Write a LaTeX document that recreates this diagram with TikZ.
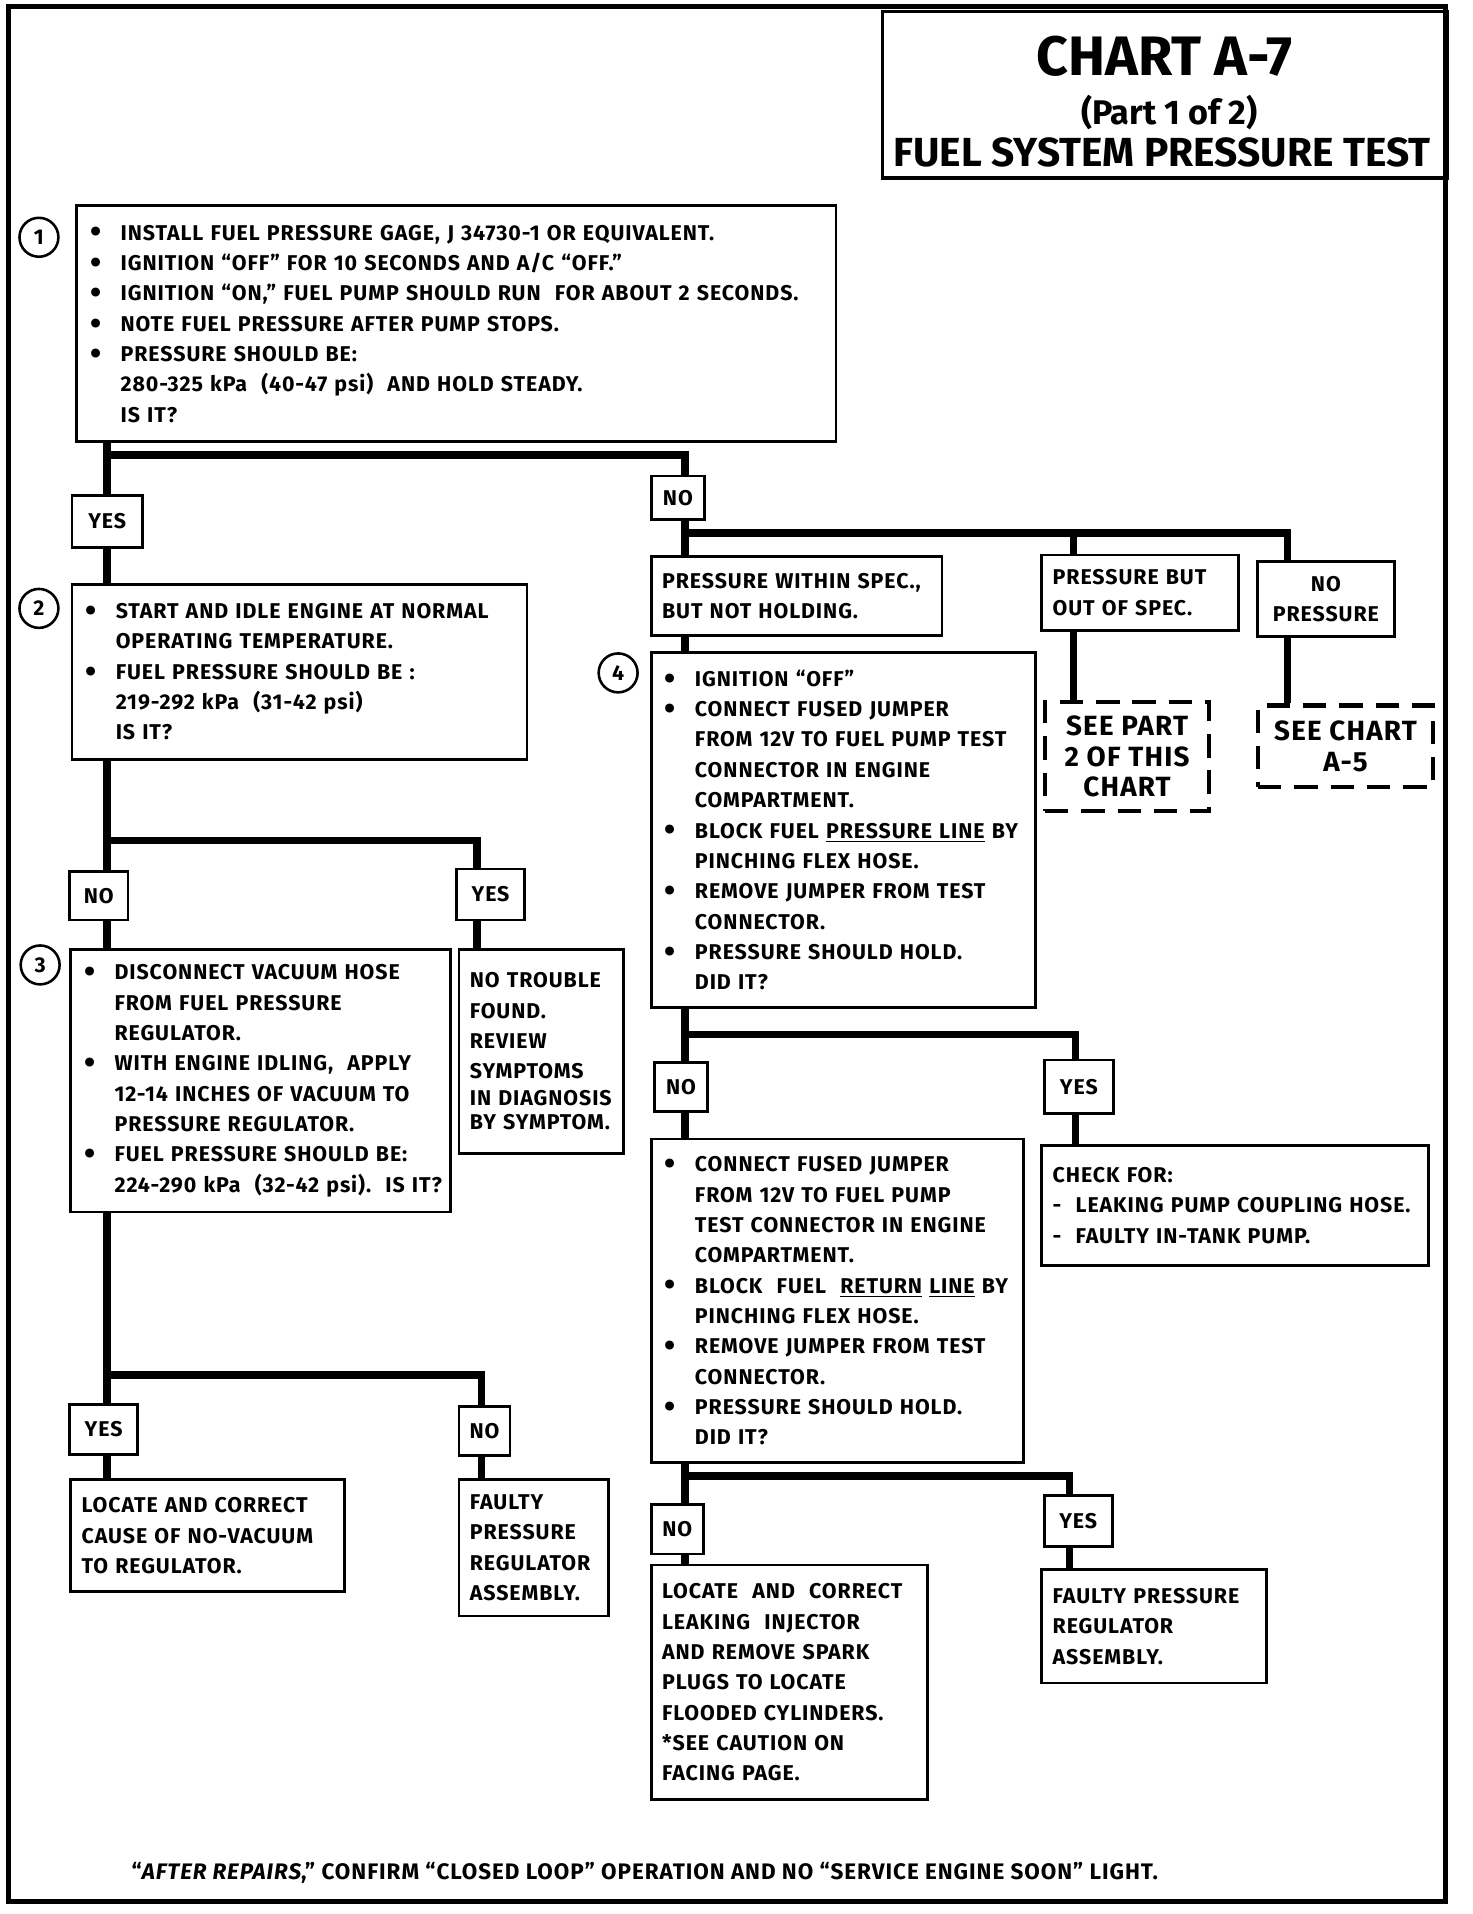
\documentclass[tikz,border=0pt]{standalone}
\usepackage{fontspec}
\setmainfont{Fira Sans}
\newfontfamily\bodyfont{Fira Sans}[LetterSpace=4.3]
\usetikzlibrary{positioning}

\newdimen\ux
\ux=0.02cm
\newcommand\txt{\bodyfont\fontsize{10}{14.2}\selectfont\bfseries}
\newcommand\seetxt{\bodyfont\fontsize{13}{14.2}\selectfont\bfseries}
\newcommand\bul[1]{\makebox[24\ux][l]{\hspace*{-1\ux}\raisebox{-1.3pt}{\fontsize{15}{15}\selectfont\textbullet}}\mbox{#1}}
\newcommand\ind[1]{\hspace*{24\ux}\mbox{#1}}
\newcommand\li[1]{\mbox{#1}}

\begin{document}
\begin{tikzpicture}[x=0.02cm, y=-0.02cm,
                    box/.style={draw, line width=1.3pt, anchor=north west, align=left, inner xsep=12\ux, inner ysep=0pt, font=\txt},
                    note/.style={box, inner xsep=9\ux},
                    tag/.style={draw, line width=1.3pt, anchor=north west, inner sep=0pt, font=\txt},
                    seebox/.style={draw, line width=2pt, dash pattern=on 11pt off 6pt, anchor=north west, align=center, inner sep=0pt, font=\seetxt},
                    num/.style={draw, circle, line width=1.2pt, minimum size=32\ux, inner sep=0pt, font=\txt},
                    conn/.style={line width=3.4pt}
                    ]
    % PAGE %
    \fill[white] (0,0) rectangle (1210,1573);
    \draw[line width=2.4pt] (7,5) rectangle (1188,1563);

    % TITLE %
    \node[draw, line width=1.6pt, anchor=north west, minimum width=464\ux, minimum height=137\ux] (title) at (724,8) {};
    \node[anchor=base, font=\fontsize{26}{26}\selectfont\bfseries] (t1) at (957,62) {CHART A-7};
    \node[anchor=base, font=\fontsize{16}{16}\selectfont\bfseries] (t2) at (961,102) {(Part 1 of 2)};
    \node[anchor=base, font=\fontsize{19}{19}\selectfont\bfseries] (t3) at (955,137) {FUEL SYSTEM PRESSURE TEST};

    % LEFT COLUMN %
    \node[box, text width=600\ux, minimum width=624\ux, minimum height=194\ux] (s1) at (62,168)
        {\bul{INSTALL FUEL PRESSURE GAGE, J 34730-1 OR EQUIVALENT.}\\
         \bul{IGNITION “OFF” FOR 10 SECONDS AND A/C “OFF.”}\\
         \bul{IGNITION “ON,” FUEL PUMP SHOULD RUN\ \ FOR ABOUT 2 SECONDS.}\\
         \bul{NOTE FUEL PRESSURE AFTER PUMP STOPS.}\\
         \bul{PRESSURE SHOULD BE:}\\
         \ind{280-325 kPa\ \ (40-47 psi)\ \ AND HOLD STEADY.}\\
         \ind{IS IT?}};
    \node[num] (c1) at (32,195) {1};

    \node[tag, minimum width=58\ux, minimum height=43\ux] (y1) at (58,406) {YES};

    \node[box, text width=350\ux, minimum width=374\ux, minimum height=144\ux] (s2) at (58,479)
        {\bul{START AND IDLE ENGINE AT NORMAL}\\
         \ind{OPERATING TEMPERATURE.}\\
         \bul{FUEL PRESSURE SHOULD BE :}\\
         \ind{219-292 kPa\ \ (31-42 psi)}\\
         \ind{IS IT?}};
    \node[num] (c2) at (32,500) {2};

    \node[tag, minimum width=48\ux, minimum height=40\ux] (n2) at (56,715) {NO};
    \node[tag, minimum width=56\ux, minimum height=42\ux] (y2) at (374,713) {YES};

    \node[box, text width=288\ux, minimum width=312\ux, minimum height=216\ux] (s3) at (57,779)
        {\bul{DISCONNECT VACUUM HOSE}\\
         \ind{FROM FUEL PRESSURE}\\
         \ind{REGULATOR.}\\
         \bul{WITH ENGINE IDLING,\ \ APPLY}\\
         \ind{12-14 INCHES OF VACUUM TO}\\
         \ind{PRESSURE REGULATOR.}\\
         \bul{FUEL PRESSURE SHOULD BE:}\\
         \ind{224-290 kPa\ \ (32-42 psi).\ \ IS IT?}};
    \node[num] (c3) at (33,793) {3};

    \node[note, text width=117\ux, minimum width=135\ux, minimum height=168\ux] (ntf) at (376,779)
        {\li{NO TROUBLE}\\ \li{FOUND.}\\ \li{REVIEW}\\ \li{SYMPTOMS}\\[-1.7pt]
         \li{IN DIAGNOSIS}\\[-2.8pt] \li{BY SYMPTOM.}};

    \node[tag, minimum width=56\ux, minimum height=41\ux] (y3) at (56,1153) {YES};
    \node[tag, minimum width=42\ux, minimum height=40\ux] (n3) at (376,1155) {NO};

    \node[note, text width=207\ux, minimum width=225\ux, minimum height=92\ux] (loc1) at (57,1215)
        {\li{LOCATE AND CORRECT}\\ \li{CAUSE OF NO-VACUUM}\\ \li{TO REGULATOR.}};
    \node[note, text width=105\ux, minimum width=123\ux, minimum height=112\ux] (flt1) at (376,1215)
        {\li{FAULTY}\\ \li{PRESSURE}\\ \li{REGULATOR}\\ \li{ASSEMBLY.}};

    % RIGHT COLUMN %
    \node[tag, minimum width=44\ux, minimum height=36\ux] (n1) at (534,390) {NO};

    \node[note, text width=221\ux, minimum width=239\ux, minimum height=65\ux] (pws) at (534,456)
        {\li{PRESSURE WITHIN SPEC.,}\\ \li{BUT NOT HOLDING.}};
    \node[note, text width=144\ux, minimum width=162\ux, minimum height=62\ux] (pbos) at (855,455)
        {\li{PRESSURE BUT}\\ \li{OUT OF SPEC.}};
    \node[box, align=center, minimum width=113\ux, minimum height=62\ux] (np) at (1032,460)
        {NO\\ PRESSURE};

    \node[seebox, minimum width=135\ux, minimum height=90\ux] (see1) at (857,575) {SEE PART\\ 2 OF THIS\\ CHART};
    \node[seebox, minimum width=144\ux, minimum height=67\ux] (see2) at (1032,578) {SEE CHART\\ A-5};

    \node[box, text width=292\ux, minimum width=316\ux, minimum height=292\ux] (s4) at (534,535)
        {\bul{IGNITION “OFF”}\\
         \bul{CONNECT FUSED JUMPER}\\
         \ind{FROM 12V TO FUEL PUMP TEST}\\
         \ind{CONNECTOR IN ENGINE}\\
         \ind{COMPARTMENT.}\\
         \bul{BLOCK FUEL \underline{PRESSURE LINE} BY}\\
         \ind{PINCHING FLEX HOSE.}\\
         \bul{REMOVE JUMPER FROM TEST}\\
         \ind{CONNECTOR.}\\
         \bul{PRESSURE SHOULD HOLD.}\\
         \ind{DID IT?}};
    \node[num] (c4) at (508,553) {4};

    \node[tag, minimum width=43\ux, minimum height=40\ux] (n4) at (537,872) {NO};
    \node[tag, minimum width=57\ux, minimum height=44\ux] (y4) at (857,870) {YES};

    \node[box, text width=282\ux, minimum width=306\ux, minimum height=266\ux] (s5) at (534,935)
        {\bul{CONNECT FUSED JUMPER}\\
         \ind{FROM 12V TO FUEL PUMP}\\
         \ind{TEST CONNECTOR IN ENGINE}\\
         \ind{COMPARTMENT.}\\
         \bul{BLOCK\ \ FUEL\ \ \underline{RETURN} \underline{LINE} BY}\\
         \ind{PINCHING FLEX HOSE.}\\
         \bul{REMOVE JUMPER FROM TEST}\\
         \ind{CONNECTOR.}\\
         \bul{PRESSURE SHOULD HOLD.}\\
         \ind{DID IT?}};

    \node[note, text width=300\ux, minimum width=318\ux, minimum height=99\ux] (chk) at (855,940)
        {\li{CHECK FOR:}\\ \li{-\ \ LEAKING PUMP COUPLING HOSE.}\\ \li{-\ \ FAULTY IN-TANK PUMP.}};

    \node[tag, minimum width=43\ux, minimum height=41\ux] (n5) at (534,1235) {NO};
    \node[tag, minimum width=56\ux, minimum height=42\ux] (y5) at (857,1228) {YES};

    \node[note, text width=209\ux, minimum width=227\ux, minimum height=193\ux] (loc2) at (534,1285)
        {\li{LOCATE\ \ AND\ \ CORRECT}\\ \li{LEAKING\ \ INJECTOR}\\ \li{AND REMOVE SPARK}\\
         \li{PLUGS TO LOCATE}\\ \li{FLOODED CYLINDERS.}\\ \li{*SEE CAUTION ON}\\ \li{FACING PAGE.}};
    \node[note, text width=167\ux, minimum width=185\ux, minimum height=93\ux] (flt2) at (855,1289)
        {\li{FAULTY PRESSURE}\\ \li{REGULATOR}\\ \li{ASSEMBLY.}};

    % FOOTER %
    \node[anchor=base, font=\txt\fontsize{10.5}{14.2}\selectfont] (foot) at (530,1545)
        {“\textit{AFTER REPAIRS},” CONFIRM “CLOSED LOOP” OPERATION AND NO “SERVICE ENGINE SOON” LIGHT.};

    % CONNECTORS %
    \coordinate (tL) at (88,0);
    \coordinate (tR) at (563,0);
    \coordinate (dY2) at (392,0);
    \coordinate (dN3) at (396,0);
    \coordinate (dPB) at (882,0);
    \coordinate (dNP) at (1058,0);
    \coordinate (dY4) at (884,0);
    \coordinate (dY5) at (879,0);
    \coordinate (h1) at (0,374);
    \coordinate (h2) at (0,691);
    \coordinate (h3) at (0,1130);
    \coordinate (h4) at (0,438);
    \coordinate (h5) at (0,850);
    \coordinate (h6) at (0,1213);

    \draw[conn] (s1.south -| tL) -- (y1.north -| tL);
    \draw[conn] (tL |- h1) -| (n1.north -| tR);
    \draw[conn] (y1.south -| tL) -- (s2.north -| tL);
    \draw[conn] (s2.south -| tL) -- (n2.north -| tL);
    \draw[conn] (tL |- h2) -| (y2.north -| dY2);
    \draw[conn] (n2.south -| tL) -- (s3.north -| tL);
    \draw[conn] (y2.south -| dY2) -- (ntf.north -| dY2);
    \draw[conn] (s3.south -| tL) -- (y3.north -| tL);
    \draw[conn] (tL |- h3) -| (n3.north -| dN3);
    \draw[conn] (y3.south -| tL) -- (loc1.north -| tL);
    \draw[conn] (n3.south -| dN3) -- (flt1.north -| dN3);

    \draw[conn] (n1.south -| tR) -- (pws.north -| tR);
    \draw[conn] (tR |- h4) -| (np.north -| dNP);
    \draw[conn] (dPB |- h4) -- (pbos.north -| dPB);
    \draw[conn] (pbos.south -| dPB) -- (see1.north -| dPB);
    \draw[conn] (np.south -| dNP) -- (see2.north -| dNP);
    \draw[conn] (pws.south -| tR) -- (s4.north -| tR);
    \draw[conn] (s4.south -| tR) -- (n4.north -| tR);
    \draw[conn] (tR |- h5) -| (y4.north -| dY4);
    \draw[conn] (n4.south -| tR) -- (s5.north -| tR);
    \draw[conn] (y4.south -| dY4) -- (chk.north -| dY4);
    \draw[conn] (s5.south -| tR) -- (n5.north -| tR);
    \draw[conn] (tR |- h6) -| (y5.north -| dY5);
    \draw[conn] (n5.south -| tR) -- (loc2.north -| tR);
    \draw[conn] (y5.south -| dY5) -- (flt2.north -| dY5);
\end{tikzpicture}
\end{document}
